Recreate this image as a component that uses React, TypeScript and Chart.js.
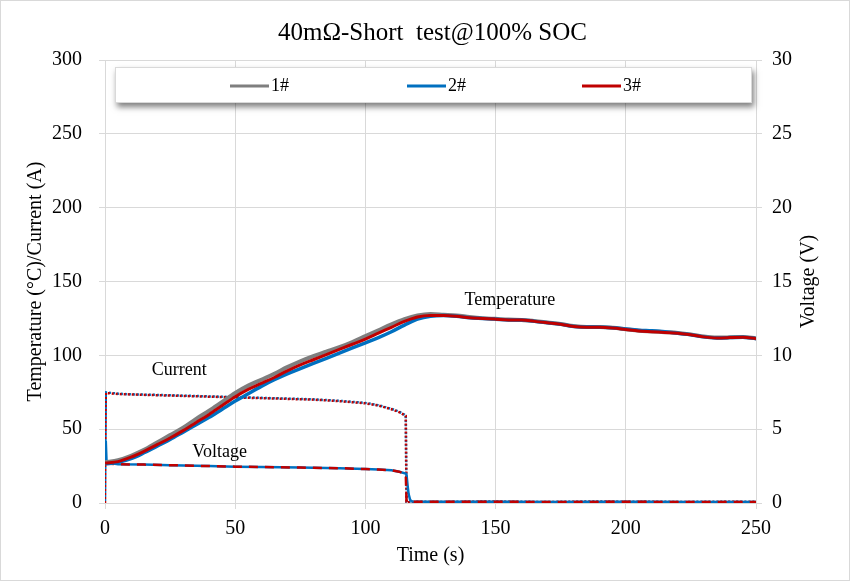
import React, { useEffect, useRef } from 'react';
import Chart from 'chart.js/auto';

const FONT = '"Liberation Serif", "Times New Roman", Times, serif';

const chartTitle = '40mΩ-Short  test@100% SOC';
const xTitle = 'Time (s)';
const yLeftTitle = 'Temperature (°C)/Current (A)';
const yRightTitle = 'Voltage (V)';
const seriesNames = ['1#', '2#', '3#'];
const seriesColors = ['#7f7f7f', '#0070c0', '#c00000'];

// Temperature (°C), left axis
const tempTime = [0, 5, 10, 15, 20, 25, 30, 35, 40, 45, 50, 55, 60, 65, 70, 75, 80, 85, 90, 95, 100, 105, 110, 115, 120, 125, 130, 135, 140, 145, 150, 155, 160, 165, 170, 175, 180, 185, 190, 195, 200, 205, 210, 215, 220, 225, 230, 235, 240, 245, 250];
const temp1 = [27.5, 29, 32, 36, 41, 46, 51, 57, 62.5, 68.5, 74.5, 79.5, 83.5, 87.5, 92, 96, 99.5, 102.5, 105.5, 109, 113, 117, 121, 124.5, 127, 128, 127.5, 127, 126, 125.2, 124.7, 124.2, 124, 123.2, 122.2, 121.2, 119.8, 119.2, 119.2, 118.7, 117.7, 116.7, 116.2, 115.7, 115.2, 114.2, 112.7, 112, 112.2, 112.5, 111.5];
const temp2 = [26.5, 27.5, 30, 34, 38.5, 43, 48, 53, 58, 63.5, 69, 74, 79, 83.5, 87.5, 91, 94.5, 98, 101.5, 105, 108.5, 112, 116, 120.5, 124.5, 126.5, 127, 126.5, 125.5, 125, 124.5, 124, 124, 123, 122, 121, 119.5, 119.2, 119, 118.7, 117.8, 117, 116.6, 116, 115, 114, 112.5, 111.8, 112, 112.3, 111.3];
const temp3 = [27, 28, 31, 35, 39.5, 44, 49, 54.5, 60, 66, 72, 77, 81, 85, 89.5, 93.5, 97, 100.5, 104, 107.5, 111, 115, 119, 123, 126, 127, 127, 126.5, 125.5, 125, 124.5, 124, 124, 123, 122, 121, 119.5, 119, 119, 118.5, 117.5, 116.5, 116, 115.5, 115, 114, 112.5, 111.8, 112, 112.3, 111.3];

// Current (A), left axis
const currTime = [0, 0.3, 5, 10, 20, 30, 40, 50, 60, 70, 80, 90, 100, 105, 110, 113, 115.5, 115.8, 120, 130, 140, 150, 160, 170, 180, 190, 200, 210, 220, 230, 240, 250];
const current2 = [0, 75, 74, 73.6, 73.2, 72.7, 72.2, 71.7, 71.2, 70.7, 70.2, 69.2, 67.8, 66.2, 63.8, 61.8, 59.3, 0.6, 0.8, 0.7, 0.9, 1.0, 0.8, 0.7, 0.9, 1.0, 0.8, 0.9, 0.7, 0.8, 0.9, 0.8];
const current3 = [0, 74.5, 73.8, 73.5, 73, 72.5, 72, 71.5, 71, 70.5, 70, 69, 67.5, 66, 63.5, 61.5, 59, 0.5, 0.7, 0.6, 0.8, 0.9, 0.7, 0.6, 0.8, 0.9, 0.7, 0.8, 0.6, 0.7, 0.8, 0.7];

// Voltage (V), right axis
const voltTime2 = [0, 0.3, 0.6, 5, 15, 25, 40, 50, 60, 75, 90, 100, 105, 110, 113, 115.5, 115.8, 116.2, 116.6, 117.2, 118, 125, 150, 175, 200, 225, 250];
const volt2 = [2.7, 4.2, 2.75, 2.63, 2.6, 2.56, 2.5, 2.46, 2.44, 2.4, 2.36, 2.3, 2.27, 2.22, 2.12, 2.0, 1.9, 1.2, 0.6, 0.2, 0.1, 0.08, 0.08, 0.07, 0.08, 0.07, 0.07];
const voltTime3 = [0, 0.3, 5, 15, 25, 40, 50, 60, 75, 90, 100, 105, 110, 113, 115.5, 115.8, 120, 150, 175, 200, 225, 250];
const volt3 = [2.7, 2.68, 2.62, 2.6, 2.56, 2.5, 2.46, 2.44, 2.4, 2.36, 2.3, 2.27, 2.22, 2.12, 1.95, 0.1, 0.08, 0.08, 0.07, 0.08, 0.07, 0.07];

// Text annotations (data coordinates on left axis)
const notes = [
  { text: 'Temperature', x: 155.5, y: 137.5 },
  { text: 'Current', x: 28.5, y: 90 },
  { text: 'Voltage', x: 44, y: 34.5 },
];

const pts = (xs: number[], ys: number[]) => xs.map((x, i) => ({ x, y: ys[i] }));

const overlay = {
  id: 'overlay',
  beforeDraw(chart: any) {
    const { ctx, width, height } = chart;
    ctx.save();
    ctx.fillStyle = '#ffffff';
    ctx.fillRect(0, 0, width, height);
    ctx.strokeStyle = '#d9d9d9';
    ctx.lineWidth = 1;
    ctx.strokeRect(0.5, 0.5, width - 1, height - 1);
    ctx.restore();
  },
  afterDraw(chart: any) {
    const { ctx, chartArea } = chart;
    const xs = chart.scales.x;
    const ys = chart.scales.y;
    ctx.save();
    // title
    ctx.fillStyle = '#000';
    ctx.textAlign = 'center';
    ctx.textBaseline = 'middle';
    ctx.font = `25px ${FONT}`;
    ctx.fillText(chartTitle, (chartArea.left + chartArea.right) / 2 + 2, 33);
    // right axis title
    ctx.save();
    ctx.translate(809, (chartArea.top + chartArea.bottom) / 2);
    ctx.rotate(-Math.PI / 2);
    ctx.font = `20px ${FONT}`;
    ctx.fillText(yRightTitle, 0, 0);
    ctx.restore();
    // annotations
    ctx.font = `18px ${FONT}`;
    notes.forEach((n) => {
      ctx.fillText(n.text, xs.getPixelForValue(n.x), ys.getPixelForValue(n.y));
    });
    // legend box
    const bx = 115, by = 67, bw = 637, bh = 36;
    ctx.save();
    ctx.shadowColor = 'rgba(0,0,0,0.5)';
    ctx.shadowBlur = 6;
    ctx.shadowOffsetX = 2;
    ctx.shadowOffsetY = 4;
    ctx.fillStyle = '#ffffff';
    ctx.fillRect(bx, by, bw, bh);
    ctx.restore();
    ctx.strokeStyle = '#d9d9d9';
    ctx.lineWidth = 1;
    ctx.strokeRect(bx + 0.5, by + 0.5, bw - 1, bh - 1);
    const itemX = [230, 407, 582];
    const ly = by + bh / 2 + 1;
    ctx.textAlign = 'left';
    ctx.font = `18px ${FONT}`;
    seriesNames.forEach((name, i) => {
      ctx.strokeStyle = seriesColors[i];
      ctx.lineWidth = 3;
      ctx.beginPath();
      ctx.moveTo(itemX[i], ly);
      ctx.lineTo(itemX[i] + 39, ly);
      ctx.stroke();
      ctx.fillStyle = '#000';
      ctx.fillText(name, itemX[i] + 41, ly);
    });
    ctx.restore();
  },
};

export default function App() {
  const ref = useRef<HTMLCanvasElement>(null);
  useEffect(() => {
    if (!ref.current) return;
    const tick = { family: FONT, size: 20 };
    const chart = new Chart(ref.current, {
      type: 'line',
      data: {
        datasets: [
          // temperatures
          { label: '1# T', data: pts(tempTime, temp1), borderColor: seriesColors[0], borderWidth: 4, yAxisID: 'y', order: 2, cubicInterpolationMode: 'monotone' },
          { label: '2# T', data: pts(tempTime, temp2), borderColor: seriesColors[1], borderWidth: 3.5, yAxisID: 'y', order: 1, cubicInterpolationMode: 'monotone' },
          { label: '3# T', data: pts(tempTime, temp3), borderColor: seriesColors[2], borderWidth: 3, yAxisID: 'y', order: 0, cubicInterpolationMode: 'monotone' },
          // currents
          { label: '2# I', data: pts(currTime, current2), borderColor: seriesColors[1], borderWidth: 2.5, borderDash: [2, 2], borderDashOffset: 2, yAxisID: 'y', order: 6 },
          { label: '3# I', data: pts(currTime, current3), borderColor: seriesColors[2], borderWidth: 2.5, borderDash: [2, 2], yAxisID: 'y', order: 5 },
          // voltages
          { label: '2# V', data: pts(voltTime2, volt2), borderColor: seriesColors[1], borderWidth: 2.5, yAxisID: 'y1', order: 4 },
          { label: '3# V', data: pts(voltTime3, volt3), borderColor: seriesColors[2], borderWidth: 2.5, borderDash: [9, 7], yAxisID: 'y1', order: 3 },
        ],
      },
      options: {
        animation: false,
        responsive: false,
        maintainAspectRatio: false,
        devicePixelRatio: 1,
        elements: { point: { radius: 0 }, line: { tension: 0 } },
        layout: { padding: { top: 60, left: 0, right: 0, bottom: 0 } },
        plugins: { legend: { display: false }, title: { display: false }, tooltip: { enabled: false } },
        scales: {
          x: {
            type: 'linear',
            min: 0,
            max: 250,
            ticks: { stepSize: 50, font: tick, color: '#000', padding: 8, maxRotation: 0 },
            grid: { color: '#d9d9d9', tickLength: 6 },
            border: { color: '#d9d9d9' },
            title: { display: true, text: xTitle, font: { family: FONT, size: 20 }, color: '#000', padding: { top: 0, bottom: 13 } },
            afterFit: (s: any) => { s.height = 78; },
          },
          y: {
            position: 'left',
            min: 0,
            max: 300,
            ticks: { stepSize: 50, font: tick, color: '#000', padding: 17 },
            grid: { color: '#d9d9d9', tickLength: 6 },
            border: { color: '#d9d9d9' },
            title: { display: true, text: yLeftTitle, font: { family: FONT, size: 20 }, color: '#000', padding: { top: 24, bottom: 0 } },
            afterFit: (s: any) => { s.width = 105; },
          },
          y1: {
            position: 'right',
            min: 0,
            max: 30,
            ticks: { stepSize: 5, font: tick, color: '#000', padding: 10 },
            grid: { color: '#d9d9d9', tickLength: 6, drawOnChartArea: false },
            border: { color: '#d9d9d9' },
            afterFit: (s: any) => { s.width = 94; },
          },
        },
      },
      plugins: [overlay],
    } as any);
    return () => chart.destroy();
  }, []);
  return (
    <div style={{ position: 'absolute', left: 0, top: 0, width: 850, height: 581 }}>
      <canvas ref={ref} width={850} height={581} style={{ display: 'block', width: 850, height: 581 }} />
    </div>
  );
}
